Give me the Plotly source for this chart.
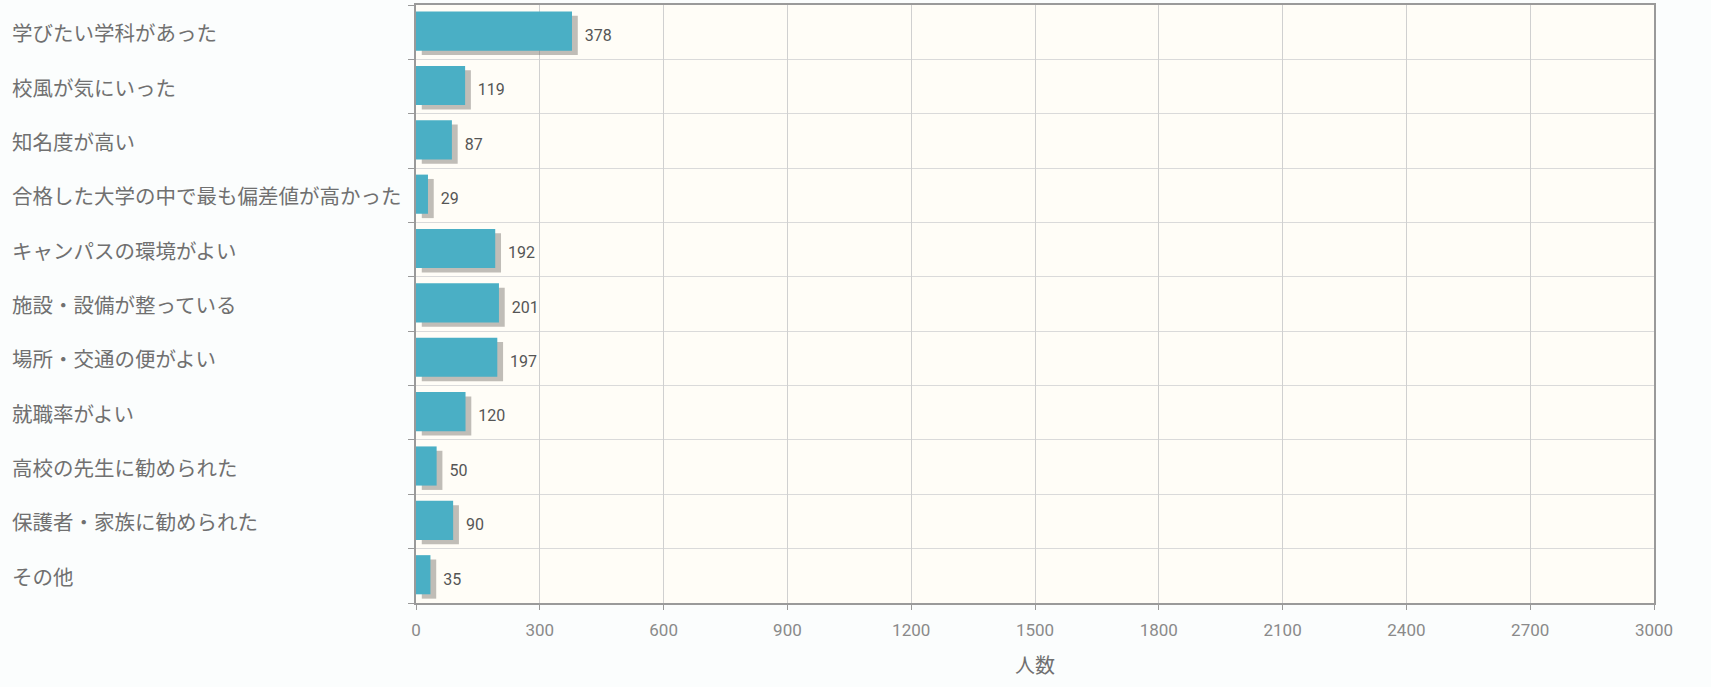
import plotly.graph_objects as go

categories = [
    "学びたい学科があった",
    "校風が気にいった",
    "知名度が高い",
    "合格した大学の中で最も偏差値が高かった",
    "キャンパスの環境がよい",
    "施設・設備が整っている",
    "場所・交通の便がよい",
    "就職率がよい",
    "高校の先生に勧められた",
    "保護者・家族に勧められた",
    "その他",
]
values = [378, 119, 87, 29, 192, 201, 197, 120, 50, 90, 35]
x_ticks = [0, 300, 600, 900, 1200, 1500, 1800, 2100, 2400, 2700, 3000]
x_title = "人数"

pos = list(range(len(categories)))

fig = go.Figure()
# soft drop shadow (carries the value labels, which sit just past it)
fig.add_trace(go.Bar(
    x=values, y=pos, orientation="h", base=14,
    width=0.72, offset=-0.30,
    marker=dict(color="rgba(105,100,95,0.42)", line=dict(width=0)),
    text=[" " + str(v) for v in values], textposition="outside",
    textfont=dict(family="Liberation Sans Narrow, Roboto, sans-serif", size=16, color="#555555"),
    cliponaxis=False, hoverinfo="skip", showlegend=False,
))
fig.add_trace(go.Bar(
    x=values, y=pos, orientation="h",
    width=0.72, offset=-0.38,
    marker=dict(color="#4AAFC5", line=dict(width=0)),
    showlegend=False,
))

for c, p in zip(categories, pos):
    fig.add_annotation(
        x=-0.328, xref="paper", y=p, yref="y", text=c, showarrow=False,
        xanchor="left", yanchor="middle",
        font=dict(family="Noto Sans CJK JP, sans-serif", size=20.5, color="#707070"),
    )

fig.update_layout(
    width=1711, height=687,
    margin=dict(l=416, r=57, t=3, b=84),
    paper_bgcolor="#FBFDFD", plot_bgcolor="#FFFDF7",
    barmode="overlay",
    xaxis=dict(
        range=[0, 3000], tickvals=x_ticks, ticktext=[str(t) for t in x_ticks],
        showgrid=True, gridcolor="#D0D0D0", gridwidth=1,
        showline=True, linecolor="#9A9A9A", linewidth=2, mirror=True,
        ticks="outside", ticklen=5, tickcolor="#9A9A9A",
        ticklabelstandoff=6,
        tickfont=dict(family="Roboto, sans-serif", size=17, color="#8A8A8A"),
        title=dict(text=x_title, font=dict(family="Noto Sans CJK JP, sans-serif", size=20, color="#707070"), standoff=20),
        zeroline=False,
    ),
    yaxis=dict(
        range=[len(categories) - 0.5, -0.5],
        tickvals=pos, showticklabels=False, ticks="",
        showgrid=False, zeroline=False,
        showline=True, linecolor="#9A9A9A", linewidth=2, mirror=True,
        minor=dict(tickmode="linear", tick0=0.5, dtick=1, showgrid=True,
                   gridcolor="#DADADA", gridwidth=1, ticks="outside", ticklen=6,
                   tickcolor="#9A9A9A"),
    ),
)

fig.write_html("out.html", config={"displayModeBar": False},
               post_script="document.body.style.margin='0px';document.body.style.background='#FBFDFD';")
